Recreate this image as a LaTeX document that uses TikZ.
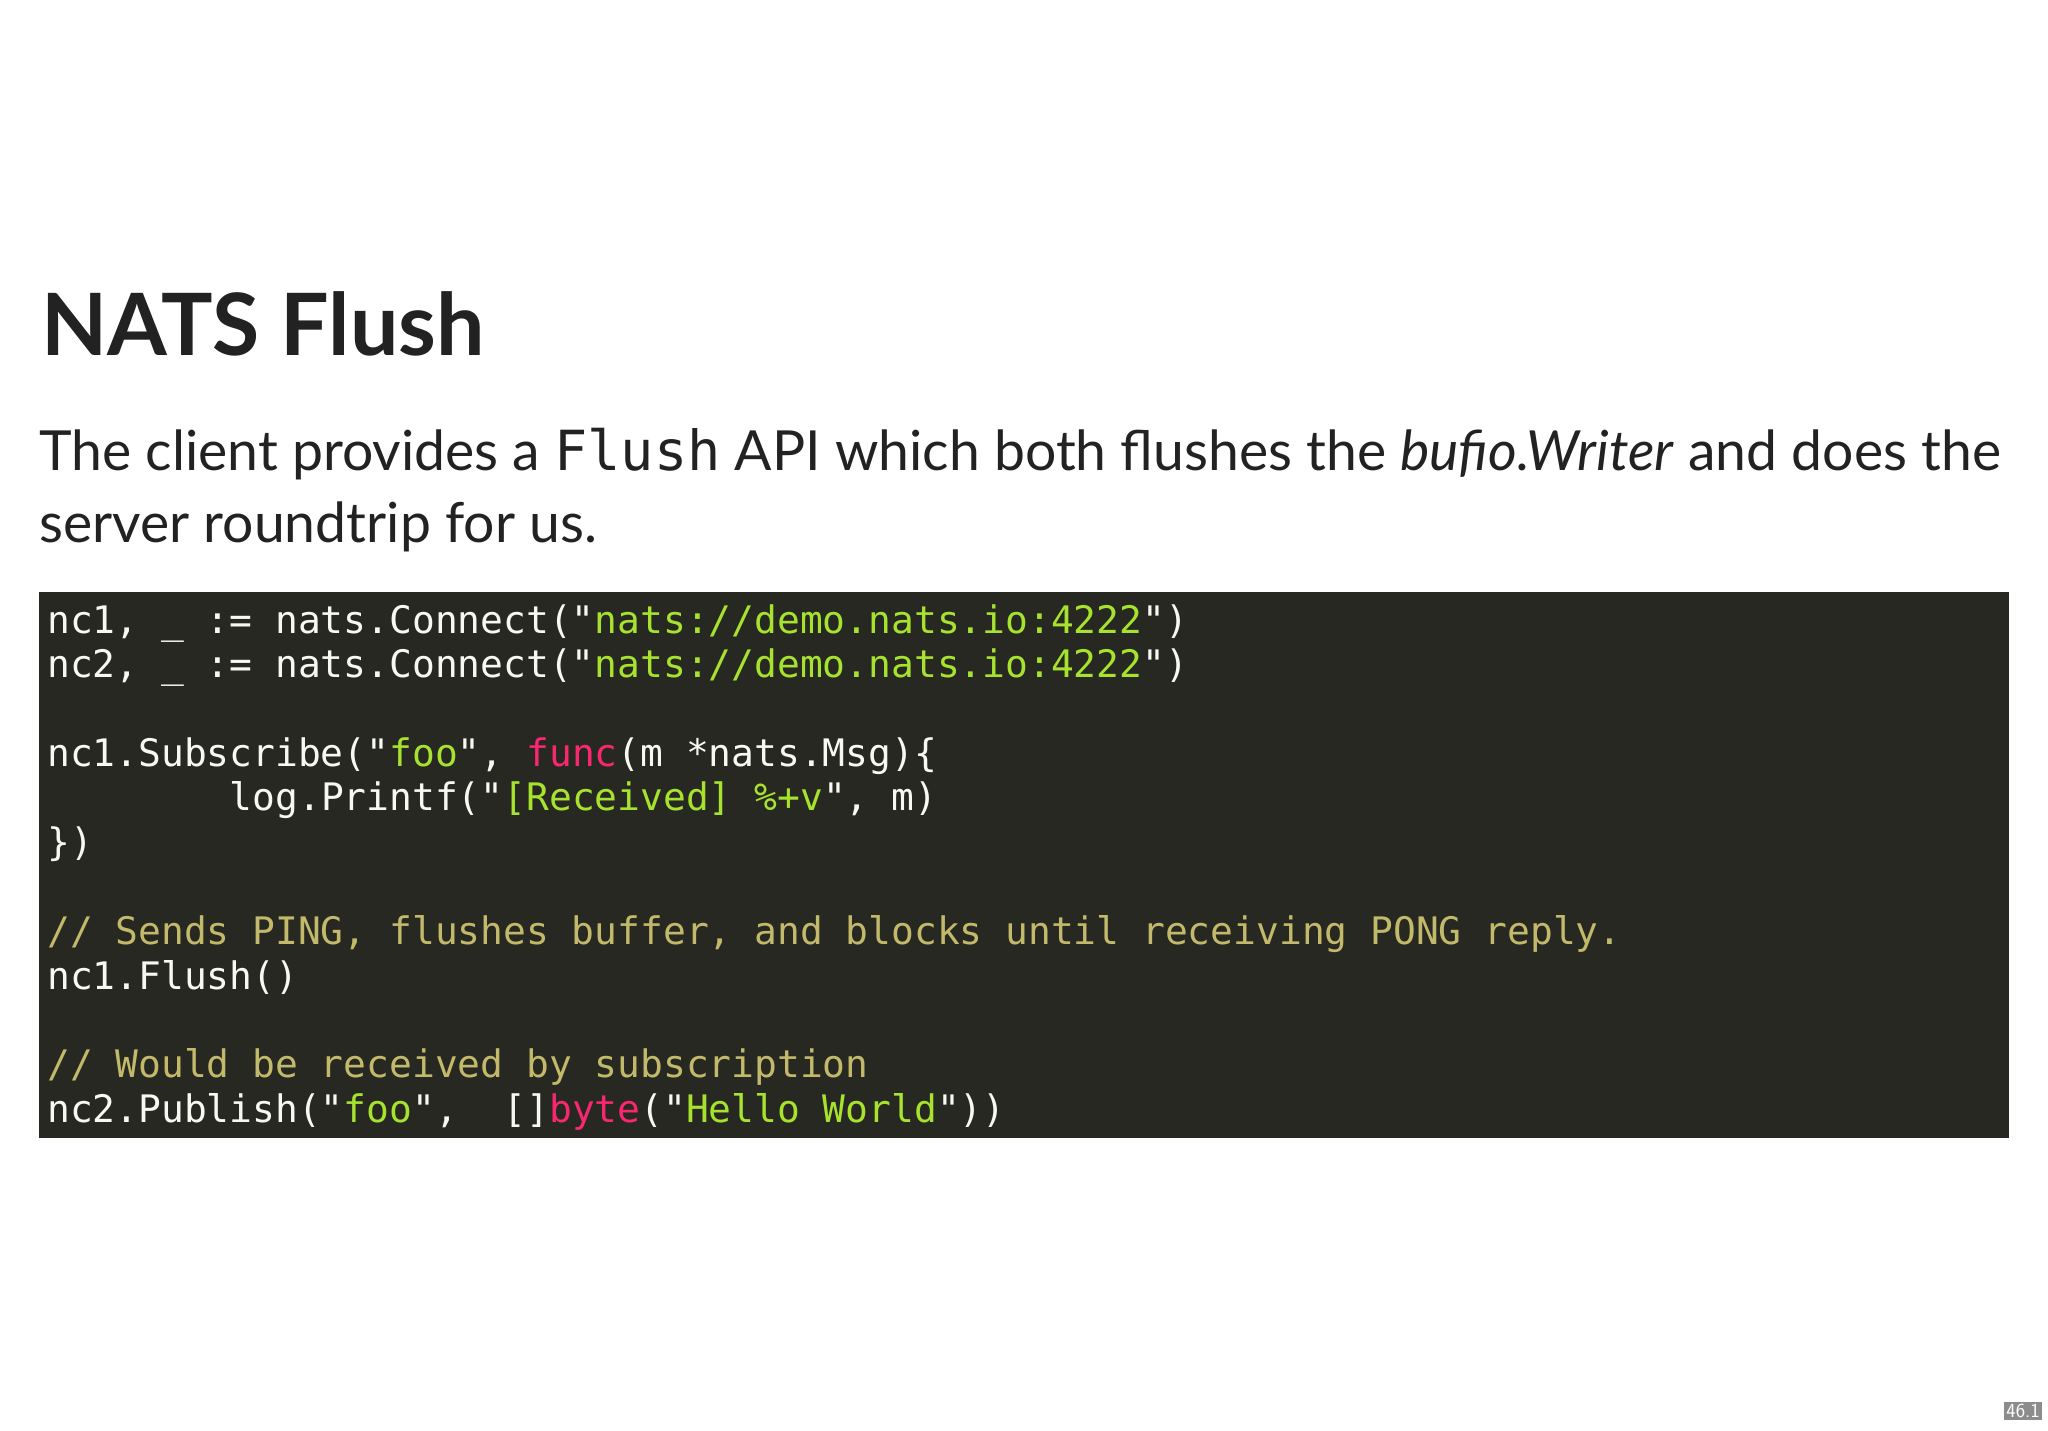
\documentclass[tikz,border=0pt]{standalone}
\usepackage{fontspec}
\setmainfont{Lato}
\setmonofont{DejaVu Sans Mono}
\definecolor{codebg}{HTML}{272822}
\definecolor{codefg}{HTML}{F8F8F2}
\definecolor{cstr}{HTML}{A6E22E}
\definecolor{ckw}{HTML}{F92672}
\definecolor{ccom}{HTML}{C2B96A}
\definecolor{txt}{HTML}{222222}
\begin{document}
\begin{tikzpicture}[x=1pt,y=-1pt,
  codeline/.style={anchor=base west,inner sep=0pt,text=codefg,font=\fontsize{37.9}{44}\ttfamily},
  para/.style={anchor=base west,inner sep=0pt,text=txt,font=\fontsize{55.3}{60}\selectfont}]
\useasboundingbox[fill=white] (0,0) rectangle (2048,1430);
\node[anchor=base west,inner sep=0pt,text=txt,font=\fontsize{86}{90}\bfseries] (title) at (41,355) {NATS Flush};
\node[para] (p1) at (39,470) {The client provides a {\ttfamily Flush} API which both flushes the \textit{bufio.Writer} and does the};
\node[para] (p2) at (39,542) {server roundtrip for us.};
\fill[codebg] (39,592) rectangle (2009,1138);
\def\S#1{\textcolor{cstr}{#1}}
\def\K#1{\textcolor{ckw}{#1}}
\node[codeline] (c1) at (47,633) {nc1, \_ := nats.Connect("\S{nats://demo.nats.io:4222}")};
\node[codeline] (c2) at (47,677) {nc2, \_ := nats.Connect("\S{nats://demo.nats.io:4222}")};
\node[codeline] (c4) at (47,766) {nc1.Subscribe("\S{foo}", \K{func}(m *nats.Msg)\{};
\node[codeline] (c5) at (47,810) {\hspace*{8\fontcharwd\font`x}log.Printf("\S{[Received] \%+v}", m)};
\node[codeline] (c6) at (47,855) {\})};
\node[codeline,text=ccom] (c8) at (47,944) {// Sends PING, flushes buffer, and blocks until receiving PONG reply.};
\node[codeline] (c9) at (47,989) {nc1.Flush()};
\node[codeline,text=ccom] (c11) at (47,1077) {// Would be received by subscription};
\node[codeline] (c12) at (47,1122) {nc2.Publish("\S{foo}",~ []\K{byte}("\S{Hello World}"))};
\node[anchor=south east,fill=black!45,text=white,inner sep=2pt,font=\fontsize{20}{22}\sffamily] (pg) at (2042,1420) {46.1};
\end{tikzpicture}
\end{document}
